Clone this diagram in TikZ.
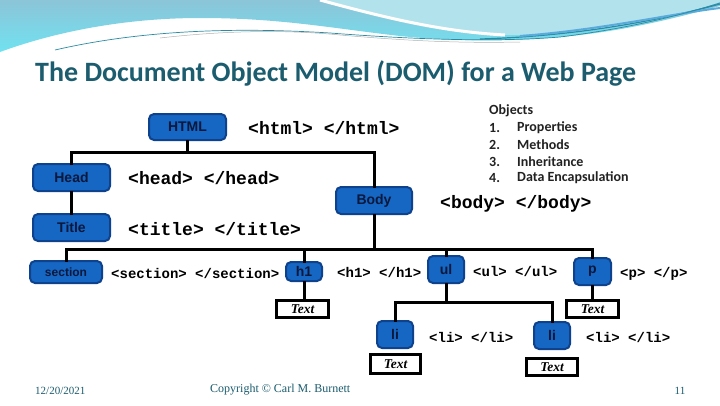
\documentclass[tikz,border=0pt]{standalone}
\usepackage{fontspec}
\newfontfamily\titlefont{Carlito}
\newfontfamily\boxfont{Liberation Sans}
\newfontfamily\codefont{Liberation Mono}
\newfontfamily\footfont{Liberation Serif}
\definecolor{boxfill}{RGB}{22,103,196}
\definecolor{boxedge}{RGB}{14,66,140}
\definecolor{boxtext}{RGB}{10,24,60}
\definecolor{titleteal}{RGB}{27,92,110}
\definecolor{skyA}{RGB}{140,196,216}
\definecolor{skyB}{RGB}{112,226,240}
\definecolor{skyC}{RGB}{178,226,236}
\definecolor{streak}{RGB}{40,140,165}
\definecolor{streakB}{RGB}{90,170,220}
\definecolor{objgray}{RGB}{34,34,34}
\tikzset{
  elbox/.style={draw=boxedge, line width=2pt, fill=boxfill, rounded corners=5pt,
    inner sep=0pt, text=boxtext, font=\boxfont\bfseries\fontsize{14}{14}\selectfont},
  txtbox/.style={draw=black, line width=3pt, fill=white, inner sep=0pt,
    font=\footfont\bfseries\itshape\fontsize{13.5}{13.5}\selectfont},
  bigcode/.style={anchor=west, inner sep=0pt, font=\codefont\bfseries\fontsize{18}{18}\selectfont},
  smallcode/.style={anchor=west, inner sep=0pt, font=\codefont\bfseries\fontsize{14}{14}\selectfont},
  objtxt/.style={anchor=west, inner sep=0pt, text=objgray,
    font=\titlefont\bfseries\fontsize{14}{14}\selectfont},
  footer/.style={inner sep=0pt, text=titleteal, font=\footfont\fontsize{12}{12}\selectfont},
  link/.style={draw=black, line width=3pt, line cap=rect}
}
\begin{document}
\begin{tikzpicture}[x=1pt,y=-1pt]
\useasboundingbox (0,0) rectangle (720,405);
\fill[white] (0,0) rectangle (720,405);
% background waves
\shade[top color=skyA, bottom color=skyB]
  (0,0) -- (720,0) -- (720,6)
  .. controls (690,14) and (640,28) .. (580,35)
  .. controls (520,42) and (460,42) .. (400,36)
  .. controls (330,28) and (280,18) .. (200,18)
  .. controls (130,18) and (60,30) .. (0,52) -- cycle;
\fill[skyC] (320,0) .. controls (400,22) and (460,34) .. (510,35)
  .. controls (600,34) and (680,16) .. (720,2) -- (720,0) -- cycle;
\draw[white, line width=3pt] (320,0) .. controls (400,22) and (450,32) .. (505,35);
\draw[streak, line width=1.2pt] (480,39) .. controls (580,36) and (660,20) .. (720,4);
\draw[streakB, line width=2pt] (520,36) .. controls (600,30) and (670,14) .. (720,8);
\draw[streak, line width=0.7pt] (55,50) .. controls (150,28) and (250,28) .. (330,33)
  .. controls (420,40) and (500,42) .. (560,37) .. controls (640,27) and (690,12) .. (720,3);
\draw[gray!60, line width=0.5pt] (160,38) .. controls (230,30) and (290,30) .. (340,35)
  .. controls (420,42) and (470,43) .. (520,42);
% title
\node[anchor=base west, inner sep=0pt, text=titleteal,
  font=\titlefont\bfseries\fontsize{28}{28}\selectfont] (title) at (35,81)
  {The Document Object Model (DOM) for a Web Page};
% element boxes
\node[elbox, minimum width=77pt, minimum height=26pt] (html) at (187.5,127) {HTML};
\node[elbox, minimum width=77pt, minimum height=27pt] (head) at (71.5,177.5) {Head};
\node[elbox, minimum width=77pt, minimum height=27pt] (titlebox) at (71.5,227.5) {Title};
\node[elbox, minimum width=72pt, minimum height=22pt,
  font=\boxfont\bfseries\fontsize{12}{12}\selectfont] (section) at (66,272) {section};
\node[elbox, minimum width=76pt, minimum height=27pt] (body) at (374,200.5) {Body};
\node[elbox, minimum width=36pt, minimum height=19pt] (h1) at (304,271.5) {h1};
\node[elbox, minimum width=36pt, minimum height=27pt] (ul) at (446,269.5) {ul};
\node[elbox, minimum width=37pt, minimum height=27pt] (p) at (592.5,271.5) {p};
\node[elbox, minimum width=36pt, minimum height=27pt] (li1) at (395,334.5) {li};
\node[elbox, minimum width=36pt, minimum height=27pt] (li2) at (552,335.5) {li};
% text boxes
\node[txtbox, minimum width=52pt, minimum height=17pt] (t1) at (302.5,309) {Text};
\node[txtbox, minimum width=52pt, minimum height=17pt] (tp) at (592.5,309) {Text};
\node[txtbox, minimum width=50pt, minimum height=19pt] (tl1) at (395.5,364) {Text};
\node[txtbox, minimum width=51pt, minimum height=17pt] (tl2) at (552,367) {Text};
% code labels
\node[bigcode] (chtml) at (248,128) {<html> </html>};
\node[bigcode] (chead) at (128,178) {<head> </head>};
\node[bigcode] (ctitle) at (128,229) {<title> </title>};
\node[bigcode] (cbody) at (440,204) {<body> </body>};
\node[smallcode] (csection) at (111,273) {<section> </section>};
\node[smallcode] (ch1) at (337,272) {<h1> </h1>};
\node[smallcode] (cul) at (473,271) {<ul> </ul>};
\node[smallcode] (cp) at (620,273.5) {<p> </p>};
\node[smallcode] (cli1) at (429,337) {<li> </li>};
\node[smallcode] (cli2) at (586,337) {<li> </li>};
% connectors
\coordinate (ya) at (0,152);
\coordinate (yb) at (0,249);
\coordinate (yc) at (0,302);
\coordinate (ja) at (html.south |- ya);
\coordinate (jb) at (body.south |- yb);
\coordinate (jc) at (ul.south |- yc);
\draw[link] (html.south) -- (ja);
\draw[link] (head.north) |- (ja);
\draw[link] (body.north) |- (ja);
\draw[link] (head.south) -- (titlebox.north);
\draw[link] (body.south) -- (jb);
\draw[link] (section.north) |- (jb);
\draw[link] (h1.north) |- (jb);
\draw[link] (ul.north) |- (jb);
\draw[link] (p.north) |- (jb);
\draw[link] (h1.south) -- (h1.south |- t1.north);
\draw[link] (p.south) -- (p.south |- tp.north);
\draw[link] (ul.south) -- (jc);
\draw[link] (li1.north) |- (jc);
\draw[link] (li2.north) |- (jc);
% objects list
\node[objtxt] (objs) at (489,111) {Objects};
\node[objtxt] (n1) at (489,127.5) {1.};
\node[objtxt] (o1) at (517,127.5) {Properties};
\node[objtxt] (n2) at (489,144.5) {2.};
\node[objtxt] (o2) at (517,144.5) {Methods};
\node[objtxt] (n3) at (489,161.5) {3.};
\node[objtxt] (o3) at (517,161.5) {Inheritance};
\node[objtxt] (n4) at (489,178) {4.};
\node[objtxt] (o4) at (517,178) {Data Encapsulation};
% footer
\node[footer, anchor=west, font=\footfont\fontsize{11}{11}\selectfont] (date) at (35,391) {12/20/2021};
\node[footer, anchor=west] (copy) at (210,390) {Copyright © Carl M. Burnett};
\node[footer, font=\footfont\fontsize{11}{11}\selectfont] (pg) at (680,391) {11};
\end{tikzpicture}
\end{document}
